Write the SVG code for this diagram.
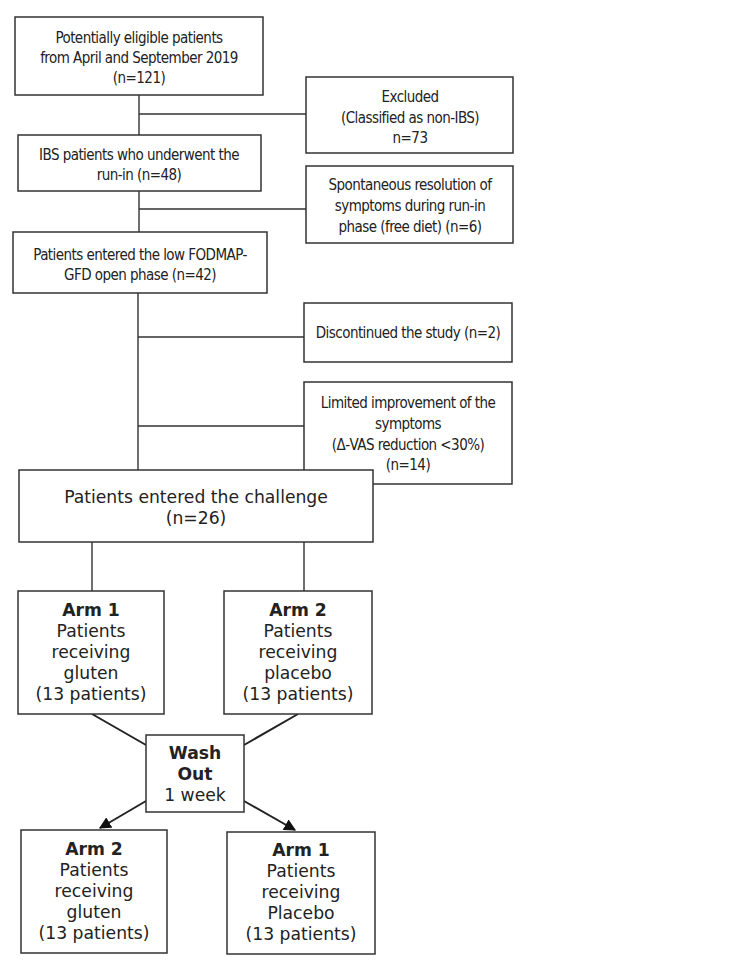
<svg xmlns="http://www.w3.org/2000/svg" width="740" height="969" viewBox="0 0 740 969">
<style>
rect{fill:#fff;stroke:#333;stroke-width:1.5}
text{fill:#222;text-anchor:middle}
.c{font-family:"DejaVu Sans Condensed","DejaVu Sans",sans-serif;font-stretch:condensed;font-size:15px;letter-spacing:-0.55px}
.v{font-family:"DejaVu Sans",Verdana,sans-serif;font-size:17.2px}
.b{font-weight:bold}
.ln{stroke:#333;stroke-width:1.4;fill:none}
.dg{stroke:#222;stroke-width:2;fill:none}
</style>
<defs>
<marker id="ah" viewBox="0 0 10 10" refX="9" refY="5" markerWidth="6" markerHeight="6" orient="auto" markerUnits="strokeWidth">
<path d="M0,0 L10,5 L0,10 z" fill="#111"/>
</marker>
</defs>
<rect x="0" y="0" width="740" height="969" style="stroke:none"/>
<g id="connectors">
<path class="ln" d="M139,95 V135 M139,114 H306"/>
<path class="ln" d="M139,191 V232 M139,209 H306"/>
<path class="ln" d="M138,293 V470 M138,337 H304 M138,426 H304"/>
<path class="ln" d="M92,542 V591 M304,542 V591"/>
<path class="dg" d="M92,714 L146,745 M298,714 L244,745"/>
<path class="dg" d="M146,801 L100,828" marker-end="url(#ah)"/>
<path class="dg" d="M244,801 L295,830" marker-end="url(#ah)"/>
</g>
<g id="n1"><rect x="15" y="17" width="248" height="78"/>
<text class="c" x="139" y="43">Potentially eligible patients</text>
<text class="c" x="139" y="63">from April and September 2019</text>
<text class="c" x="139" y="83">(n=121)</text></g>
<g id="n2"><rect x="306" y="77" width="207" height="76"/>
<text class="c" x="410" y="102">Excluded</text>
<text class="c" x="410" y="123">(Classified as non-IBS)</text>
<text class="c" x="410" y="143">n=73</text></g>
<g id="n3"><rect x="18" y="135" width="243" height="56"/>
<text class="c" x="139" y="160">IBS patients who underwent the</text>
<text class="c" x="139" y="180">run-in (n=48)</text></g>
<g id="n4"><rect x="306" y="166" width="207" height="77"/>
<text class="c" x="410" y="190">Spontaneous resolution of</text>
<text class="c" x="410" y="211">symptoms during run-in</text>
<text class="c" x="410" y="232">phase (free diet) (n=6)</text></g>
<g id="n5"><rect x="13" y="232" width="254" height="61"/>
<text class="c" x="140" y="260">Patients entered the low FODMAP-</text>
<text class="c" x="140" y="280">GFD open phase (n=42)</text></g>
<g id="n6"><rect x="304" y="303" width="208" height="59"/>
<text class="c" x="408" y="338">Discontinued the study (n=2)</text></g>
<g id="n7"><rect x="304" y="382" width="208" height="102"/>
<text class="c" x="408" y="408">Limited improvement of the</text>
<text class="c" x="408" y="429">symptoms</text>
<text class="c" x="408" y="450">(Δ-VAS reduction &lt;30%)</text>
<text class="c" x="408" y="470">(n=14)</text></g>
<g id="n8"><rect x="19" y="470" width="354" height="72"/>
<text class="v" x="196" y="503">Patients entered the challenge</text>
<text class="v" x="196" y="524">(n=26)</text></g>
<g id="n9"><rect x="18" y="591" width="146" height="123"/>
<text class="v b" x="91" y="616">Arm 1</text>
<text class="v" x="91" y="637">Patients</text>
<text class="v" x="91" y="658">receiving</text>
<text class="v" x="91" y="679">gluten</text>
<text class="v" x="91" y="700">(13 patients)</text></g>
<g id="n10"><rect x="224" y="591" width="148" height="123"/>
<text class="v b" x="298" y="616">Arm 2</text>
<text class="v" x="298" y="637">Patients</text>
<text class="v" x="298" y="658">receiving</text>
<text class="v" x="298" y="679">placebo</text>
<text class="v" x="298" y="700">(13 patients)</text></g>
<g id="n11"><rect x="146" y="735" width="98" height="77"/>
<text class="v b" x="195" y="759">Wash</text>
<text class="v b" x="195" y="780">Out</text>
<text class="v" x="195" y="801">1 week</text></g>
<g id="n12"><rect x="21" y="830" width="146" height="123"/>
<text class="v b" x="94" y="855">Arm 2</text>
<text class="v" x="94" y="876">Patients</text>
<text class="v" x="94" y="897">receiving</text>
<text class="v" x="94" y="918">gluten</text>
<text class="v" x="94" y="939">(13 patients)</text></g>
<g id="n13"><rect x="227" y="832" width="148" height="122"/>
<text class="v b" x="301" y="856">Arm 1</text>
<text class="v" x="301" y="877">Patients</text>
<text class="v" x="301" y="898">receiving</text>
<text class="v" x="301" y="919">Placebo</text>
<text class="v" x="301" y="940">(13 patients)</text></g>
</svg>
